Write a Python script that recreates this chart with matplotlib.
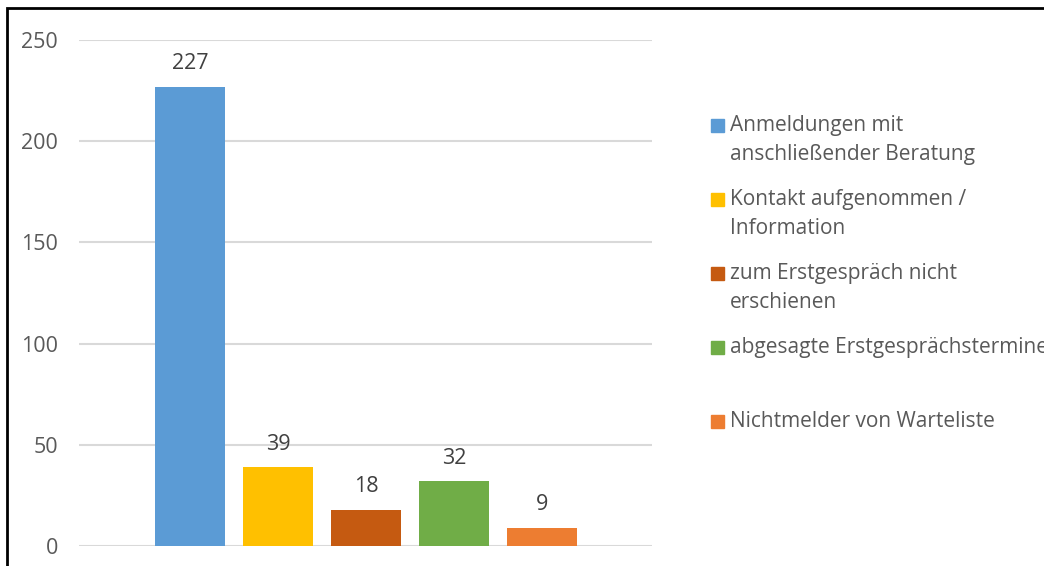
import matplotlib.pyplot as plt
from matplotlib.patches import Rectangle

labels = ['Anmeldungen mit\nanschließender Beratung',
          'Kontakt aufgenommen /\nInformation',
          'zum Erstgespräch nicht\nerschienen',
          'abgesagte Erstgesprächstermine',
          'Nichtmelder von Warteliste']
values = [227, 39, 18, 32, 9]
colors = ['#5B9BD5', '#FFC000', '#C55A11', '#70AD47', '#ED7D31']
yticks = [0, 50, 100, 150, 200, 250]

plt.rcParams['font.family'] = ['Open Sans', 'DejaVu Sans']

W, H = 1044, 566
fig = plt.figure(figsize=(W / 100, H / 100), dpi=100)
ax = fig.add_axes([79 / W, 1 - 546 / H, 573 / W, 506 / H])

for i, (v, c) in enumerate(zip(values, colors)):
    ax.bar(i, v, width=70 / 88, color=c, zorder=3)
    ax.annotate(str(v), (i, v), xytext=(0, 9), textcoords='offset points',
                ha='center', va='bottom', fontsize=15.5, color='#404040')

ax.set_xlim(-1.26, 5.25)
ax.set_ylim(0, 250)
ax.set_yticks(yticks)
ax.set_xticks([])
ax.grid(axis='y', color='#d9d9d9', linewidth=1.5, zorder=0)
for s in ax.spines.values():
    s.set_visible(False)
ax.tick_params(axis='y', length=0, labelsize=15.5, labelcolor='#595959', pad=15)

# legend: square marker aligned with the first line of each entry
for k, (lab, c) in enumerate(zip(labels, colors)):
    yc = 125 + k * 74
    fig.patches.append(Rectangle((711 / W, 1 - (yc + 7) / H), 13 / W, 13 / H,
                                 transform=fig.transFigure, color=c))
    fig.text(730 / W, 1 - (yc - 10) / H, lab, ha='left', va='top',
             fontsize=15, color='#595959', linespacing=1.5)

# outer frame of the chart area
fig.patches.append(Rectangle((7 / W, -0.1), 1.2, 1 - 8 / H + 0.1,
                             transform=fig.transFigure, fill=False,
                             edgecolor='black', linewidth=2))

fig.savefig('out.png', dpi=100)
